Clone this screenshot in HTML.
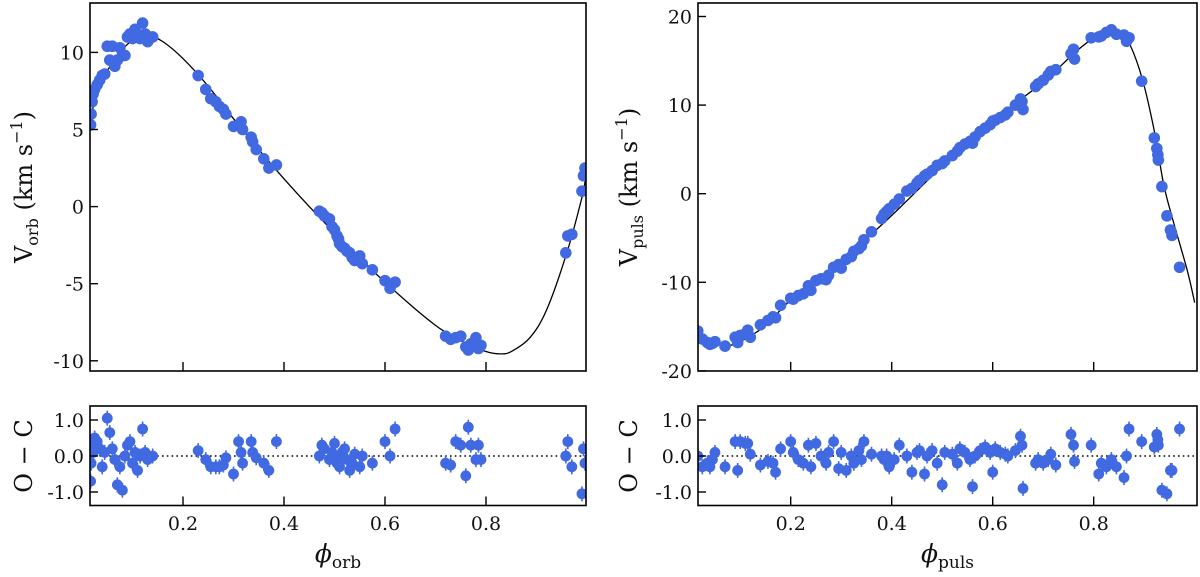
<!DOCTYPE html>
<html><head><meta charset="utf-8"><style>
html,body{margin:0;padding:0;background:#fff}
svg{display:block}
text{font-family:"DejaVu Serif","Liberation Serif",serif;fill:#111}
</style></head><body>
<svg id="chart" width="1200" height="577" viewBox="0 0 1200 577"></svg>
<script>
// ---------- data ----------
const orbCurvePhase=[0.016,0.03,0.05,0.07,0.1,0.13,0.16,0.2,0.25,0.3,0.35,0.4,0.45,0.5,0.55,0.59,0.655,0.7,0.723,0.75,0.8,0.828,0.85,0.887,0.92,0.96,0.99,0.998];
const orbCurveV=[5.5,7.5,8.8,9.8,10.8,11.1,10.7,9.6,7.8,5.7,3.7,1.8,0.0,-1.7,-3.3,-4.6,-6.5,-7.7,-8.2,-8.7,-9.4,-9.55,-9.4,-8.5,-6.7,-3.0,0.6,2.0];
const orbPhase=[0.017,0.018,0.02,0.022,0.025,0.03,0.035,0.04,0.045,0.05,0.055,0.06,0.065,0.07,0.075,0.08,0.085,0.09,0.095,0.1,0.105,0.11,0.115,0.12,0.125,0.13,0.14,
0.23,0.245,0.255,0.265,0.272,0.28,0.285,0.3,0.31,0.315,0.318,0.335,0.338,0.345,0.36,0.37,0.385,
0.47,0.475,0.48,0.49,0.495,0.5,0.505,0.508,0.51,0.515,0.52,0.525,0.53,0.535,0.54,0.55,0.555,0.575,0.6,0.61,0.62,
0.72,0.73,0.74,0.75,0.76,0.765,0.77,0.78,0.785,0.79,
0.958,0.962,0.97,0.99,0.993,0.996];
const orbV=[5.3,6.0,6.8,7.3,7.6,7.9,8.2,8.5,8.6,10.4,9.5,10.4,9.1,9.5,10.3,9.8,9.8,11.0,11.2,10.9,11.5,11.1,10.9,11.9,11.2,10.7,11.0,
8.5,7.6,7.0,6.8,6.5,6.3,6.0,5.2,5.3,5.5,5.0,4.5,4.2,3.7,3.1,2.5,2.7,
-0.3,-0.4,-0.6,-0.8,-1.3,-1.5,-1.9,-2.1,-2.4,-2.6,-2.7,-2.9,-3.0,-3.3,-3.5,-3.2,-3.7,-4.1,-4.8,-5.3,-4.9,
-8.4,-8.6,-8.5,-8.4,-9.1,-9.3,-8.9,-8.5,-9.2,-9.0,
-3.0,-1.9,-1.8,1.0,2.0,2.5];
const orbRes=[-0.7,-0.2,0.3,0.1,0.5,0.4,0.2,-0.3,0.1,1.05,0.65,0.2,-0.1,-0.8,-0.3,-0.95,0.0,0.3,0.4,-0.2,0.1,-0.4,0.0,0.75,0.1,-0.1,0.0,
0.15,-0.1,-0.3,-0.3,-0.3,-0.25,-0.05,-0.5,0.4,0.1,-0.2,0.4,0.1,-0.05,-0.2,-0.4,0.4,
0.0,0.3,0.2,-0.1,0.1,0.35,-0.2,0.0,-0.3,0.1,0.2,-0.1,-0.4,-0.2,0.05,-0.3,0.0,-0.2,0.4,0.0,0.75,
-0.2,-0.25,0.4,0.3,-0.55,0.8,0.3,-0.1,0.3,-0.1,
0.0,0.4,-0.3,-1.05,0.2,-0.2];

const pulCurvePhase=[0.0,0.016,0.05,0.08,0.1,0.15,0.2,0.3,0.39,0.5,0.6,0.7,0.76,0.793,0.82,0.838,0.855,0.872,0.897,0.921,0.938,0.955,0.985,1.0];
const pulCurveV=[-14.5,-15.6,-16.9,-17.1,-16.7,-14.9,-12.0,-7.5,-3.0,3.1,8.2,12.6,15.8,17.3,18.1,18.3,17.9,16.8,12.8,6.8,1.2,-2.6,-8.6,-12.3];
const pulPhase=[0.016,0.025,0.035,0.04,0.045,0.05,0.07,0.09,0.095,0.1,0.11,0.115,0.12,0.14,0.155,0.165,0.17,0.18,0.2,0.205,0.215,0.225,0.235,0.24,0.25,0.26,0.27,0.275,0.285,0.295,0.3,0.31,0.32,0.325,0.335,0.34,0.345,0.36,0.38,0.385,0.39,0.395,0.405,0.415,0.43,0.44,0.45,0.455,0.465,0.47,0.48,0.49,0.5,0.505,0.52,0.53,0.535,0.545,0.555,0.56,0.565,0.575,0.585,0.595,0.6,0.605,0.615,0.625,0.63,0.645,0.655,0.658,0.66,0.685,0.69,0.7,0.71,0.715,0.725,0.755,0.76,0.762,0.795,0.81,0.815,0.825,0.835,0.845,0.86,0.865,0.87,0.895,0.92,0.925,0.927,0.928,0.935,0.945,0.952,0.955,0.97];
const pulV=[-15.5,-16.4,-16.8,-17.0,-16.9,-16.7,-17.2,-16.2,-16.8,-16.0,-15.8,-15.4,-16.2,-14.8,-14.3,-13.9,-14.0,-12.6,-11.8,-11.9,-11.5,-11.3,-10.4,-10.9,-9.8,-9.6,-9.7,-9.2,-8.3,-8.0,-8.4,-7.4,-7.1,-6.5,-6.2,-5.9,-5.2,-4.3,-2.8,-2.3,-2.0,-1.7,-1.2,-0.6,0.3,0.6,1.2,1.5,2.0,2.2,2.6,3.2,3.4,3.7,4.3,4.8,5.2,5.6,5.9,5.7,6.4,7.0,7.4,7.8,8.2,8.3,8.6,8.9,9.2,10.0,10.7,10.4,9.5,12.1,12.4,12.8,13.4,13.8,14.0,15.8,16.3,15.2,17.6,17.7,17.8,18.2,18.5,18.0,17.9,17.2,17.6,12.7,6.3,5.1,4.4,3.8,0.8,-2.5,-4.1,-4.7,-8.3];
const pulRes=[0.0,-0.3,-0.2,-0.3,-0.1,0.1,-0.3,0.4,-0.4,0.4,0.35,0.35,0.05,-0.25,-0.15,-0.2,-0.45,0.2,0.4,0.1,-0.1,-0.2,0.3,-0.3,0.35,0.0,-0.2,0.1,0.4,-0.35,0.1,-0.4,0.0,-0.2,0.15,-0.1,0.4,0.05,0.0,-0.1,0.0,-0.3,-0.1,0.3,0.0,-0.45,0.1,0.15,-0.5,0.0,0.15,-0.2,-0.8,0.1,0.05,-0.2,0.2,0.1,-0.1,-0.85,0.0,0.15,0.25,0.1,-0.45,0.2,0.1,0.05,0.0,0.15,0.55,0.3,-0.9,-0.2,-0.1,-0.2,-0.1,0.05,-0.25,0.6,0.3,-0.15,0.3,-0.5,-0.2,-0.3,-0.1,-0.3,-0.6,0.0,0.75,0.4,0.25,0.6,0.45,0.3,-0.95,-1.05,-0.4,-0.4,0.75];

const xTicks=[0.2,0.4,0.6,0.8];
const orbYTicks=[10,5,0,-5,-10];
const pulYTicks=[20,10,0,-10,-20];
const resTicks=[1.0,0.0,-1.0];

// ---------- drawing ----------
const svg=document.getElementById('chart');
const NS='http://www.w3.org/2000/svg';
function mk(tag,attrs,parent){const e=document.createElementNS(NS,tag);for(const k in attrs)e.setAttribute(k,attrs[k]);(parent||svg).appendChild(e);return e;}
const BLUE='#4169e1';

function panel(cfg){
  const g=mk('g',{});
  
  
  const X=p=>cfg.x0+505*p;
  const Ytop=v=>cfg.yTop0-cfg.yTopScale*v;
  const Yres=r=>456-36*r;
  const pts=cfg.cp.map((p,i)=>[X(p),Ytop(cfg.cv[i])]);
  let d='M'+pts[0][0]+' '+pts[0][1];
  for(let i=0;i<pts.length-1;i++){
    const p0=pts[Math.max(0,i-1)],p1=pts[i],p2=pts[i+1],p3=pts[Math.min(pts.length-1,i+2)];
    const c1=[p1[0]+(p2[0]-p0[0])/6,p1[1]+(p2[1]-p0[1])/6];
    const c2=[p2[0]-(p3[0]-p1[0])/6,p2[1]-(p3[1]-p1[1])/6];
    d+=`C${c1[0].toFixed(2)} ${c1[1].toFixed(2)} ${c2[0].toFixed(2)} ${c2[1].toFixed(2)} ${p2[0].toFixed(2)} ${p2[1].toFixed(2)}`;
  }
  const cid='clip-'+cfg.name;
  const cp=mk('clipPath',{id:cid},g);mk('rect',{x:cfg.left,y:3,width:cfg.right-cfg.left,height:368},cp);
  const cid2='clipr-'+cfg.name;
  const cp2=mk('clipPath',{id:cid2},g);mk('rect',{x:cfg.left,y:406,width:cfg.right-cfg.left,height:100},cp2);
  const curve=mk('path',{d:d,fill:'none',stroke:'#000','stroke-width':1.3,'clip-path':`url(#${cid})`},g);
  
  
  const pg=mk('g',{'clip-path':`url(#${cid})`},g);
  for(let i=0;i<cfg.ph.length;i++){
    const c=mk('circle',{cx:X(cfg.ph[i]),cy:Ytop(cfg.v[i]),r:5.8,fill:BLUE},pg);
    
    
  }
  const zl=mk('line',{x1:cfg.left,x2:cfg.right,y1:Yres(0),y2:Yres(0),stroke:'#000','stroke-width':1.6,'stroke-dasharray':'1.6 3.2'},g);
  
  
  const rg=mk('g',{'clip-path':`url(#${cid2})`},g);
  for(let i=0;i<cfg.ph.length;i++){
    const x=X(cfg.ph[i]),y=Yres(cfg.res[i]);
    const eb=mk('line',{x1:x,x2:x,y1:y-7.5,y2:y+7.5,stroke:BLUE,'stroke-width':1.6},rg);
    
    
    const c=mk('circle',{cx:x,cy:y,r:5.4,fill:BLUE},rg);
    
    
  }
  const f1=mk('rect',{x:cfg.left,y:3,width:cfg.right-cfg.left,height:368,fill:'none',stroke:'#000','stroke-width':1.6},g);
  
  
  const f2=mk('rect',{x:cfg.left,y:406,width:cfg.right-cfg.left,height:99.5,fill:'none',stroke:'#000','stroke-width':1.6},g);
  
  
  xTicks.forEach(t=>{
    const x=X(t);
    mk('line',{x1:x,x2:x,y1:371,y2:362,stroke:'#000','stroke-width':1.4},g);
    mk('line',{x1:x,x2:x,y1:505.5,y2:496.5,stroke:'#000','stroke-width':1.4},g);
    const tl=mk('text',{x:x,y:530,'text-anchor':'middle','font-size':19},g);
    tl.textContent=t.toFixed(1);
    
    
  });
  cfg.yt.forEach(t=>{
    const y=Ytop(t);
    mk('line',{x1:cfg.left,x2:cfg.left+8,y1:y,y2:y,stroke:'#000','stroke-width':1.4},g);
    const tl=mk('text',{x:cfg.left-6,y:y+7,'text-anchor':'end','font-size':19},g);
    tl.textContent=t;
    
    
  });
  resTicks.forEach(t=>{
    const y=Yres(t);
    mk('line',{x1:cfg.left,x2:cfg.left+8,y1:y,y2:y,stroke:'#000','stroke-width':1.4},g);
    const tl=mk('text',{x:cfg.left-6,y:y+7,'text-anchor':'end','font-size':19},g);
    tl.textContent=t.toFixed(1);
    
    
  });
  const yl=mk('text',{transform:`translate(${cfg.ylx},${cfg.yly}) rotate(-90)`,'text-anchor':'middle','font-size':24},g);
  yl.innerHTML=`V<tspan font-size="16" dy="6">${cfg.sub}</tspan><tspan dy="-6"> (km s</tspan><tspan font-size="16" dy="-10">−1</tspan><tspan dy="10">)</tspan>`;
  
  
  const ol=mk('text',{transform:`translate(${cfg.ylx},456) rotate(-90)`,'text-anchor':'middle','font-size':24},g);
  ol.textContent='O − C';
  
  
  const xl=mk('text',{x:(cfg.left+cfg.right)/2,y:562,'text-anchor':'middle','font-size':25},g);
  xl.innerHTML=`<tspan font-style="italic">ϕ</tspan><tspan font-size="17" dy="6">${cfg.sub}</tspan>`;
  
  
}

panel({name:'orbital-panel',x0:82,left:90,right:586,yTop0:206.6,yTopScale:15.42,cp:orbCurvePhase,cv:orbCurveV,ph:orbPhase,v:orbV,res:orbRes,yt:orbYTicks,sub:'orb',ylx:32,yly:187});
panel({name:'pulsation-panel',x0:689.7,left:698,right:1197,yTop0:193.7,yTopScale:8.86,cp:pulCurvePhase,cv:pulCurveV,ph:pulPhase,v:pulV,res:pulRes,yt:pulYTicks,sub:'puls',ylx:637,yly:187});
</script>
</body></html>
